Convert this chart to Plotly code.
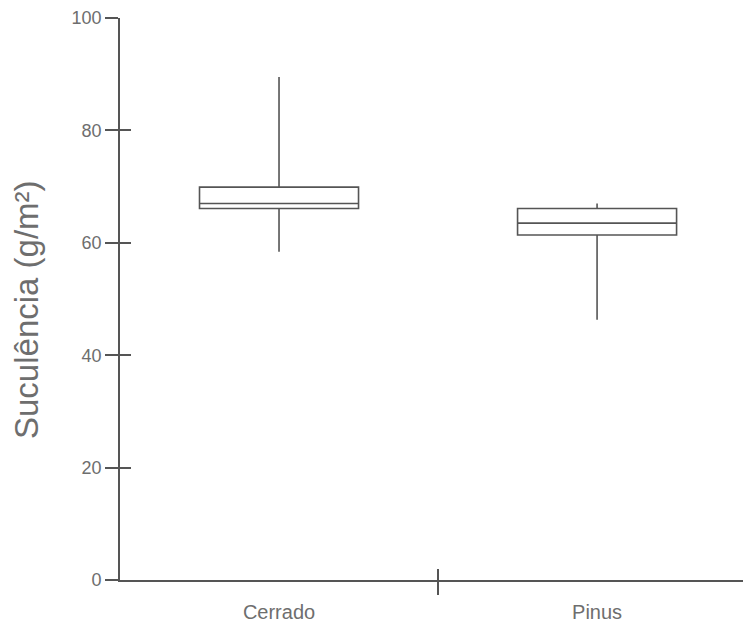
import plotly.graph_objects as go

categories = ["Cerrado", "Pinus"]
lower_whisker = [58.4, 46.3]
q1_values = [66.1, 61.4]
median_values = [67.0, 63.5]
q3_values = [69.9, 66.1]
upper_whisker = [89.5, 67.0]
y_ticks = [0, 20, 40, 60, 80, 100]
y_title = "Suculência (g/m²)"

LINE = "#555555"
TEXT = "#6e6e6e"
FONT = "Liberation Sans, Arial, sans-serif"
XRANGE = [-0.5, 1.484]

fig = go.Figure()
fig.add_trace(go.Box(
    x=categories,
    q1=q1_values, median=median_values, q3=q3_values,
    lowerfence=lower_whisker, upperfence=upper_whisker,
    width=0.5, whiskerwidth=0, boxpoints=False,
    fillcolor="white", line=dict(color=LINE, width=1.6),
    showlegend=False, hoverinfo="skip",
))
# empty helper traces so the overlay tick axes are drawn
fig.add_trace(go.Scatter(x=[], y=[], xaxis="x2", yaxis="y", showlegend=False))
fig.add_trace(go.Scatter(x=[], y=[], xaxis="x3", yaxis="y", showlegend=False))
fig.add_trace(go.Scatter(x=[], y=[], xaxis="x", yaxis="y2", showlegend=False))

fig.update_layout(
    width=743, height=615,
    margin=dict(l=112, r=0, t=8, b=40),
    paper_bgcolor="white", plot_bgcolor="white",
    font=dict(family=FONT, color=TEXT),
    xaxis=dict(
        type="category", range=XRANGE, showgrid=False, zeroline=False,
        showline=True, linecolor=LINE, linewidth=1.6,
        ticks="outside", ticklen=13, tickcolor="rgba(0,0,0,0)",
        tickfont=dict(size=20, color=TEXT, family=FONT),
    ),
    xaxis2=dict(
        overlaying="x", anchor="y", range=XRANGE, showgrid=False, zeroline=False,
        showline=False, tickmode="array", tickvals=[0.5], ticks="outside",
        ticklen=14, tickwidth=1.6, tickcolor=LINE, showticklabels=False,
    ),
    xaxis3=dict(
        overlaying="x", anchor="y", range=XRANGE, showgrid=False, zeroline=False,
        showline=False, tickmode="array", tickvals=[0.5], ticks="inside",
        ticklen=11, tickwidth=1.6, tickcolor=LINE, showticklabels=False,
    ),
    yaxis=dict(
        range=[0, 100], tickmode="array", tickvals=y_ticks,
        showgrid=False, zeroline=False,
        showline=True, linecolor=LINE, linewidth=1.6,
        ticks="outside", ticklen=13, tickwidth=1.6, tickcolor=LINE,
        ticklabeloverflow="allow",
        tickfont=dict(size=18, color=TEXT, family=FONT),
    ),
    yaxis2=dict(
        overlaying="y", anchor="x", range=[0, 100], tickmode="array",
        tickvals=y_ticks, showgrid=False, zeroline=False, showline=False,
        ticks="inside", ticklen=11, tickwidth=1.6, tickcolor=LINE,
        showticklabels=False,
    ),
    annotations=[dict(
        text=y_title, textangle=-90, showarrow=False,
        xref="paper", yref="paper", x=0, y=0.5,
        xanchor="center", yanchor="middle", xshift=-94, yshift=-11,
        font=dict(size=33, color=TEXT, family=FONT),
    )],
)

fig.write_html("out.html")
